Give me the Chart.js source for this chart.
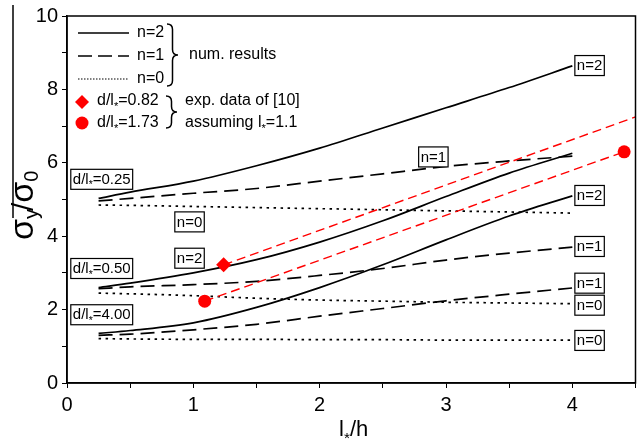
<!DOCTYPE html>
<html>
<head>
<meta charset="utf-8">
<script src="https://cdn.jsdelivr.net/npm/chart.js@4.4.0/dist/chart.umd.min.js"></script>
<style>
  body { margin: 0; background: #fff; }
  canvas { display: block; }
</style>
</head>
<body>
<canvas id="grafico" width="643" height="441"></canvas>
<script>
// l*/h values where the numerical curves were computed
const lStar = [0.25, 0.5, 1, 1.5, 2, 2.5, 3, 3.5, 4];

// d/l* = 0.25
const d025_n2 = [5.03, 5.2, 5.5, 5.92, 6.4, 6.95, 7.5, 8.05, 8.64];
const d025_n1 = [4.96, 5.03, 5.17, 5.3, 5.5, 5.7, 5.9, 6.05, 6.18];
const d025_n0 = [4.85, 4.84, 4.81, 4.78, 4.75, 4.72, 4.69, 4.66, 4.63];
// d/l* = 0.50
const d050_n2 = [2.6, 2.72, 3.0, 3.36, 3.84, 4.42, 5.08, 5.72, 6.26];
const d050_n1 = [2.57, 2.62, 2.68, 2.77, 2.93, 3.12, 3.35, 3.54, 3.7];
const d050_n0 = [2.45, 2.43, 2.38, 2.31, 2.26, 2.23, 2.2, 2.18, 2.16];
// d/l* = 4.00
const d400_n2 = [1.35, 1.43, 1.64, 2.06, 2.6, 3.22, 3.9, 4.55, 5.1];
const d400_n1 = [1.3, 1.33, 1.45, 1.6, 1.82, 2.03, 2.24, 2.42, 2.59];
const d400_n0 = [1.21, 1.2, 1.19, 1.19, 1.18, 1.18, 1.17, 1.17, 1.17];

// exp. data of [10]
const exp082X = [1.24];
const exp082Y = [3.22];
const exp173X = [1.09, 4.41];
const exp173Y = [2.23, 6.3];
// red dashed trend lines
const fit082X = [1.24, 4.5];
const fit082Y = [3.22, 7.25];
const fit173X = [1.09, 4.41];
const fit173Y = [2.23, 6.3];

const xTicks = [0, 1, 2, 3, 4];
const yTicks = [0, 2, 4, 6, 8, 10];

// boxed labels inside the plot (data coordinates)
const rotulos = [
  { t: 'd/l*=0.25', x: 0.03, y: 5.55, a: 'left' },
  { t: 'd/l*=0.50', x: 0.03, y: 3.12, a: 'left' },
  { t: 'd/l*=4.00', x: 0.03, y: 1.86, a: 'left' },
  { t: 'n=0', x: 0.97, y: 4.39, a: 'center' },
  { t: 'n=2', x: 0.97, y: 3.4, a: 'center' },
  { t: 'n=1', x: 2.9, y: 6.16, a: 'center' },
  { t: 'n=2', x: 4.02, y: 8.65, a: 'left' },
  { t: 'n=2', x: 4.02, y: 5.11, a: 'left' },
  { t: 'n=1', x: 4.02, y: 3.72, a: 'left' },
  { t: 'n=1', x: 4.02, y: 2.72, a: 'left' },
  { t: 'n=0', x: 4.02, y: 2.12, a: 'left' },
  { t: 'n=0', x: 4.02, y: 1.16, a: 'left' }
];

const FONTE = '"Liberation Sans", Arial, sans-serif';

function pares(xs, ys) {
  return xs.map((x, i) => ({ x: x, y: ys[i] }));
}

function curva(ys, dash) {
  return {
    data: pares(lStar, ys),
    borderColor: '#000',
    borderWidth: 1.7,
    borderDash: dash,
    pointRadius: 0,
    cubicInterpolationMode: 'monotone',
    fill: false,
    order: 2
  };
}

const SOLIDO = [];
const TRACEJADO = [14, 7];
const PONTILHADO = [2.5, 4.5];

// text with "*" drawn as a small low star (l*)
function larguraTexto(ctx, str, size) {
  const partes = str.split('*');
  let w = 0;
  partes.forEach((p, i) => {
    ctx.font = size + 'px ' + FONTE;
    w += ctx.measureText(p).width;
    if (i < partes.length - 1) {
      ctx.font = (size * 0.7) + 'px ' + FONTE;
      w += ctx.measureText('*').width;
    }
  });
  return w;
}

function escreve(ctx, str, x, y, size) {
  const partes = str.split('*');
  ctx.textAlign = 'left';
  ctx.textBaseline = 'middle';
  ctx.fillStyle = '#000';
  let cx = x;
  partes.forEach((p, i) => {
    ctx.font = size + 'px ' + FONTE;
    ctx.fillText(p, cx, y);
    cx += ctx.measureText(p).width;
    if (i < partes.length - 1) {
      ctx.font = (size * 0.7) + 'px ' + FONTE;
      ctx.fillText('*', cx, y + size * 0.38);
      cx += ctx.measureText('*').width;
    }
  });
}

function chave(ctx, x, y1, y2, w) {
  const ym = (y1 + y2) / 2;
  const h = w / 2;
  ctx.beginPath();
  ctx.moveTo(x, y1);
  ctx.quadraticCurveTo(x + h, y1, x + h, y1 + h);
  ctx.lineTo(x + h, ym - h);
  ctx.quadraticCurveTo(x + h, ym, x + w, ym);
  ctx.quadraticCurveTo(x + h, ym, x + h, ym + h);
  ctx.lineTo(x + h, y2 - h);
  ctx.quadraticCurveTo(x + h, y2, x, y2);
  ctx.stroke();
}

const extras = {
  id: 'extras',
  afterDatasetsDraw(chart) {
    const ctx = chart.ctx;
    const a = chart.chartArea;
    const sx = chart.scales.x;
    const sy = chart.scales.y;
    ctx.save();

    // frame
    ctx.strokeStyle = '#000';
    ctx.lineWidth = 1.5;
    ctx.setLineDash([]);
    ctx.strokeRect(a.left, a.top, a.right - a.left, a.bottom - a.top);

    // boxed labels
    rotulos.forEach(r => {
      const w = larguraTexto(ctx, r.t, 15) + 4;
      const h = 20;
      const px = sx.getPixelForValue(r.x);
      const py = sy.getPixelForValue(r.y);
      const left = r.a === 'center' ? px - w / 2 : px;
      ctx.fillStyle = '#fff';
      ctx.fillRect(left, py - h / 2, w, h);
      ctx.strokeStyle = '#000';
      ctx.lineWidth = 1.2;
      ctx.strokeRect(left, py - h / 2, w, h);
      escreve(ctx, r.t, left + 2, py + 0.5, 15);
    });

    // legend
    ctx.strokeStyle = '#000';
    ctx.lineWidth = 1.6;
    ctx.setLineDash([]);
    ctx.beginPath(); ctx.moveTo(78, 33); ctx.lineTo(129, 33); ctx.stroke();
    ctx.setLineDash([14, 6]);
    ctx.beginPath(); ctx.moveTo(78, 56); ctx.lineTo(129, 56); ctx.stroke();
    ctx.lineWidth = 1.2;
    ctx.setLineDash([1.5, 1.5]);
    ctx.beginPath(); ctx.moveTo(78, 79); ctx.lineTo(129, 79); ctx.stroke();
    ctx.setLineDash([]);
    escreve(ctx, 'n=2', 137, 33, 16);
    escreve(ctx, 'n=1', 137, 56, 16);
    escreve(ctx, 'n=0', 137, 79, 16);
    ctx.lineWidth = 1.5;
    chave(ctx, 167, 24, 86, 11);
    escreve(ctx, 'num. results', 189, 55, 16);

    ctx.fillStyle = '#ff0000';
    ctx.beginPath();
    ctx.moveTo(82, 95); ctx.lineTo(89, 102); ctx.lineTo(82, 109); ctx.lineTo(75, 102);
    ctx.closePath(); ctx.fill();
    ctx.beginPath(); ctx.arc(82, 123, 6.5, 0, Math.PI * 2); ctx.fill();
    escreve(ctx, 'd/l*=0.82', 97, 101, 16);
    escreve(ctx, 'd/l*=1.73', 97, 123, 16);
    ctx.strokeStyle = '#000';
    chave(ctx, 166, 96, 128, 11);
    escreve(ctx, 'exp. data of [10]', 185, 101, 16);
    escreve(ctx, 'assuming l*=1.1', 185, 123, 16);

    // axis titles
    escreve(ctx, 'l*/h', 339, 430, 22);

    ctx.save();
    ctx.translate(33, 240);
    ctx.rotate(-Math.PI / 2);
    ctx.fillStyle = '#000';
    ctx.textBaseline = 'alphabetic';
    ctx.textAlign = 'left';
    let cx = 0;
    ctx.font = '34px ' + FONTE;
    ctx.fillText('σ', cx, 0); cx += ctx.measureText('σ').width;
    ctx.font = '20px ' + FONTE;
    ctx.fillText('y', cx, 5); cx += ctx.measureText('y').width;
    ctx.font = '30px ' + FONTE;
    ctx.fillText('/', cx - 2, 0); cx += ctx.measureText('/').width - 2;
    ctx.font = '34px ' + FONTE;
    ctx.fillText('σ', cx, 0); cx += ctx.measureText('σ').width;
    ctx.font = '20px ' + FONTE;
    ctx.fillText('0', cx, 5);
    ctx.restore();

    // stray bar left of the y title
    ctx.strokeStyle = '#000';
    ctx.lineWidth = 1.5;
    ctx.beginPath(); ctx.moveTo(13, 5); ctx.lineTo(13, 218); ctx.stroke();

    ctx.restore();
  }
};

new Chart(document.getElementById('grafico').getContext('2d'), {
  type: 'line',
  data: {
    datasets: [
      { type: 'scatter', data: pares(exp082X, exp082Y), pointStyle: 'rectRot', pointRadius: 7.5,
        backgroundColor: '#ff0000', borderWidth: 0, order: 0 },
      { type: 'scatter', data: pares(exp173X, exp173Y), pointStyle: 'circle', pointRadius: 6.5,
        backgroundColor: '#ff0000', borderWidth: 0, order: 0 },
      { data: pares(fit082X, fit082Y), borderColor: '#ff0000', borderWidth: 1.4, borderDash: [9, 5],
        pointRadius: 0, fill: false, order: 1 },
      { data: pares(fit173X, fit173Y), borderColor: '#ff0000', borderWidth: 1.4, borderDash: [9, 5],
        pointRadius: 0, fill: false, order: 1 },
      curva(d025_n2, SOLIDO), curva(d025_n1, TRACEJADO), curva(d025_n0, PONTILHADO),
      curva(d050_n2, SOLIDO), curva(d050_n1, TRACEJADO), curva(d050_n0, PONTILHADO),
      curva(d400_n2, SOLIDO), curva(d400_n1, TRACEJADO), curva(d400_n0, PONTILHADO)
    ]
  },
  options: {
    responsive: false,
    animation: false,
    devicePixelRatio: 1,
    layout: { padding: { top: 12, right: 5, left: 0, bottom: 0 } },
    plugins: { legend: { display: false }, tooltip: { enabled: false } },
    scales: {
      x: {
        type: 'linear',
        min: 0,
        max: 4.5,
        afterFit: s => { s.height = 58; },
        ticks: {
          stepSize: 0.5,
          autoSkip: false,
          maxRotation: 0,
          padding: 5,
          color: '#000',
          font: { size: 20, family: FONTE },
          callback: v => xTicks.includes(v) ? String(v) : ''
        },
        grid: { drawOnChartArea: false, drawTicks: true, tickLength: 5, color: '#000', lineWidth: 1 },
        border: { display: true, color: '#000', width: 1.5 }
      },
      y: {
        min: 0,
        max: 10,
        afterFit: s => { s.width = 67; },
        ticks: {
          stepSize: 1,
          autoSkip: false,
          padding: 4,
          color: '#000',
          font: { size: 20, family: FONTE },
          callback: v => yTicks.includes(v) ? String(v) : ''
        },
        grid: { drawOnChartArea: false, drawTicks: true, tickLength: 5, color: '#000', lineWidth: 1 },
        border: { display: true, color: '#000', width: 1.5 }
      }
    }
  },
  plugins: [extras]
});
</script>
</body>
</html>
